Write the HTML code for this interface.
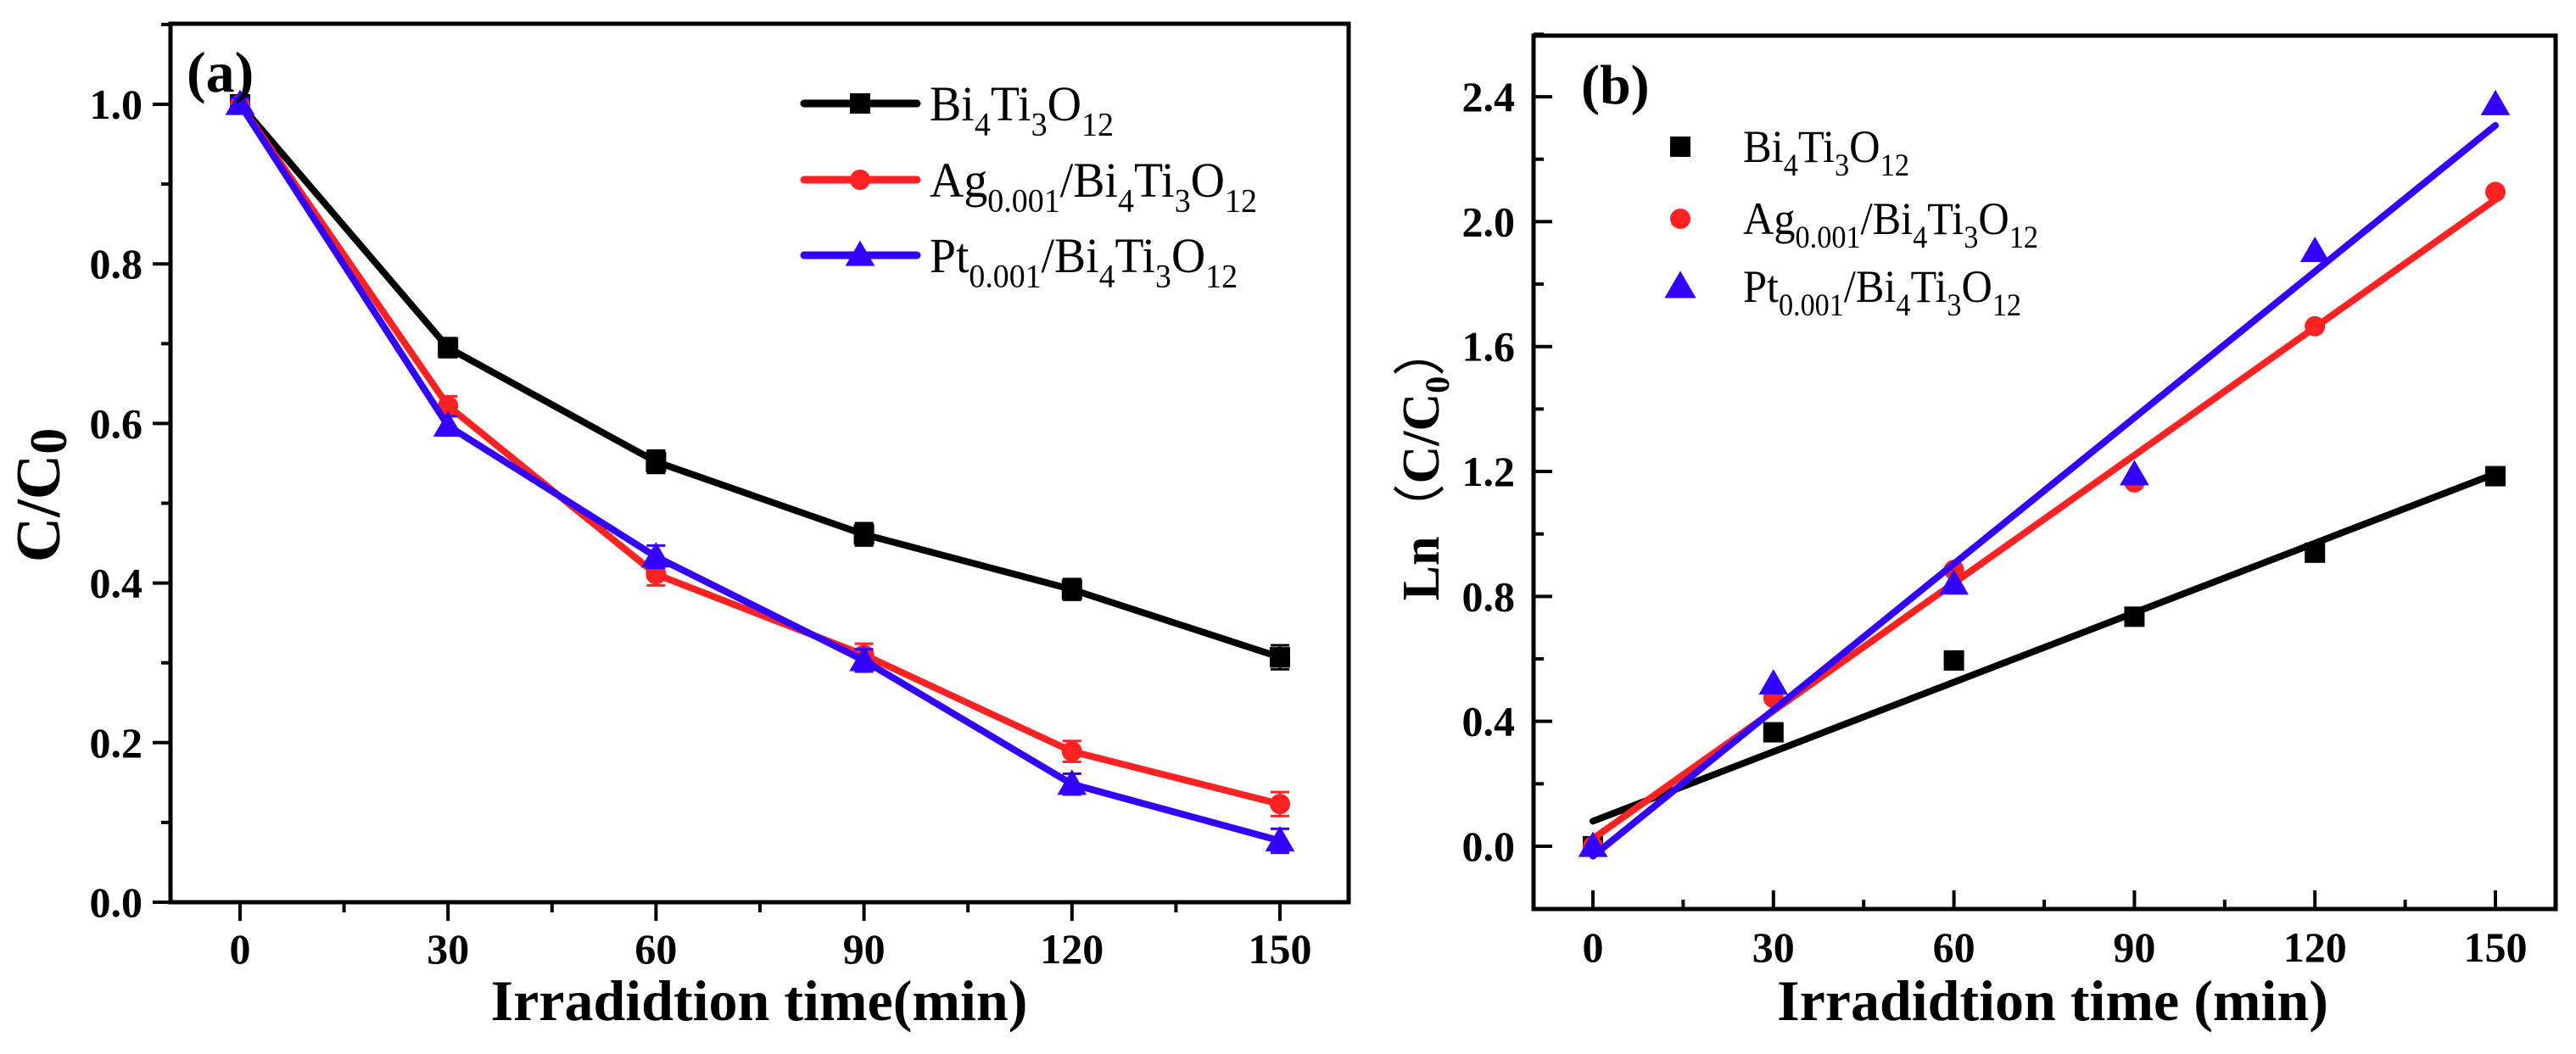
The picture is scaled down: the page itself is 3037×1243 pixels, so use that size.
<!DOCTYPE html>
<html><head><meta charset="utf-8"><style>
html,body{margin:0;padding:0;background:#fff;}
svg{display:block;font-family:"Liberation Serif",serif;}
</style></head><body>
<svg id="fig" width="3037" height="1243" viewBox="0 0 3037 1243" xmlns="http://www.w3.org/2000/svg">
<g id="pa"></g>
<g id="pb"></g>
</svg>
<script>
const times = [0, 30, 60, 90, 120, 150];
const seriesNames = ["Bi4Ti3O12", "Ag0.001/Bi4Ti3O12", "Pt0.001/Bi4Ti3O12"];
const aBlack = [1.0, 0.695, 0.552, 0.461, 0.392, 0.307];
const aRed = [1.0, 0.622, 0.411, 0.310, 0.189, 0.123];
const aBlue = [1.0, 0.597, 0.433, 0.303, 0.148, 0.077];
const aErr = [0.008, 0.012, 0.014, 0.014, 0.013, 0.015];
const bBlack = [0, 0.365, 0.595, 0.735, 0.94, 1.185];
const bRed = [0, 0.475, 0.885, 1.165, 1.665, 2.095];
const bBlue = [0, 0.52, 0.84, 1.19, 1.905, 2.375];
const aXTicks = [0, 30, 60, 90, 120, 150];
const aYTicks = [0.0, 0.2, 0.4, 0.6, 0.8, 1.0];
const bXTicks = [0, 30, 60, 90, 120, 150];
const bYTicks = [0.0, 0.4, 0.8, 1.2, 1.6, 2.0, 2.4];

const NS = "http://www.w3.org/2000/svg";
const COLORS = ["#000000", "#ff2222", "#3300ff"];
function mk(parent, tag, attrs) {
  const e = document.createElementNS(NS, tag);
  for (const k in attrs) e.setAttribute(k, attrs[k]);
  parent.appendChild(e);
  return e;
}
const ax = t => 283 + t * (1509 - 283) / 150;
const ay = v => 1064 - v * 941;
const bx = t => 1878 + t * (2942 - 1878) / 150;
const by = v => 998 - v * 368.3;

function marker(g, type, x, y, color, s) {
  let m;
  if (type === 0) m = mk(g, "rect", {x: x - s/2, y: y - s/2, width: s, height: s, fill: color});
  else if (type === 1) m = mk(g, "circle", {cx: x, cy: y, r: s/2, fill: color});
  else m = mk(g, "polygon", {points: `${x},${y - s*0.62} ${x - s*0.62},${y + s*0.45} ${x + s*0.62},${y + s*0.45}`, fill: color});
  return m;
}
function formula(g, x, y, size, name, len) {
  const t = mk(g, "text", {x: x, y: y, "font-size": size, fill: "#000", textLength: len, lengthAdjust: "spacingAndGlyphs"});
  const parts = name.match(/[A-Za-z\/]+|[0-9.]+/g);
  let sub = false;
  parts.forEach(p => {
    const isNum = /^[0-9.]+$/.test(p);
    const ts = mk(t, "tspan", {});
    if (isNum && !sub) { ts.setAttribute("dy", size * 0.3); ts.setAttribute("font-size", size * 0.68); sub = true; }
    else if (!isNum && sub) { ts.setAttribute("dy", -size * 0.3); sub = false; }
    ts.textContent = p;
  });
  return t;
}

// ---------- Panel A ----------
const pa = document.getElementById("pa");
mk(pa, "rect", {x: 201, y: 28, width: 1389, height: 1036, fill: "none", stroke: "#000", "stroke-width": 5});
aXTicks.forEach(t => {
  const l = mk(pa, "line", {x1: ax(t), y1: 1064, x2: ax(t), y2: 1086, stroke: "#000", "stroke-width": 4});
  
  
  if (t < 150) mk(pa, "line", {x1: ax(t + 15), y1: 1064, x2: ax(t + 15), y2: 1076, stroke: "#000", "stroke-width": 4});
  const tx = mk(pa, "text", {x: ax(t), y: 1136, "font-size": 50, "font-weight": "bold", "text-anchor": "middle"});
  tx.textContent = String(t);
  
  
});
mk(pa, "line", {x1: ax(-15) < 201 ? 0 : 0, y1: 0, x2: 0, y2: 0});
aYTicks.forEach(v => {
  mk(pa, "line", {x1: 180, y1: ay(v), x2: 201, y2: ay(v), stroke: "#000", "stroke-width": 4});
  if (v < 1.05) mk(pa, "line", {x1: 190, y1: ay(v + 0.1), x2: 201, y2: ay(v + 0.1), stroke: "#000", "stroke-width": 4});
  const tx = mk(pa, "text", {x: 168, y: ay(v) + 17, "font-size": 50, "font-weight": "bold", "text-anchor": "end"});
  tx.textContent = v.toFixed(1);
  
  
});
[aBlack, aRed, aBlue].forEach((vals, si) => {
  const g = mk(pa, "g", {});
  
  
  const pts = vals.map((v, i) => ax(times[i]) + "," + ay(v)).join(" ");
  mk(g, "polyline", {points: pts, fill: "none", stroke: COLORS[si], "stroke-width": 8, "stroke-linejoin": "round"});
  vals.forEach((v, i) => {
    const x = ax(times[i]), e = aErr[i];
    mk(g, "path", {d: `M${x},${ay(v + e)}V${ay(v - e)}M${x - 11},${ay(v + e)}H${x + 11}M${x - 11},${ay(v - e)}H${x + 11}`, stroke: COLORS[si], "stroke-width": 3, fill: "none"});
    const m = marker(g, si, x, ay(v), COLORS[si], si === 2 ? 28 : 24);
    
    
  });
});
const la = mk(pa, "text", {x: 220, y: 108, "font-size": 68, "font-weight": "bold"}); la.textContent = "(a)";
 
const legA = mk(pa, "g", {});
 
const legALens = [217, 386, 363];
[122, 212, 301].forEach((y, i) => {
  mk(legA, "line", {x1: 948, y1: y, x2: 1081, y2: y, stroke: COLORS[i], "stroke-width": 9, "stroke-linecap": "round"});
  marker(legA, i, 1014, y, COLORS[i], i === 2 ? 28 : 24);
  const t = formula(legA, 1096, y + 20, 58, seriesNames[i], legALens[i]);
   
});
const xta = mk(pa, "text", {x: 895, y: 1203, "font-size": 68, "font-weight": "bold", "text-anchor": "middle"});
xta.textContent = "Irradidtion time(min)";
 
const yta = mk(pa, "text", {x: 0, y: 0, "font-size": 74, "font-weight": "bold", "text-anchor": "middle", transform: "translate(70,584) rotate(-90)"});
yta.innerHTML = 'C/C<tspan font-size="62" dy="8">0</tspan>';
 

// ---------- Panel B ----------
const pb = document.getElementById("pb");
mk(pb, "rect", {x: 1808, y: 42, width: 1205, height: 1030, fill: "none", stroke: "#000", "stroke-width": 5});
bXTicks.forEach(t => {
  mk(pb, "line", {x1: bx(t), y1: 1072, x2: bx(t), y2: 1050, stroke: "#000", "stroke-width": 4});
  if (t < 150) mk(pb, "line", {x1: bx(t + 15), y1: 1072, x2: bx(t + 15), y2: 1061, stroke: "#000", "stroke-width": 4});
  const tx = mk(pb, "text", {x: bx(t), y: 1134, "font-size": 50, "font-weight": "bold", "text-anchor": "middle"});
  tx.textContent = String(t);
  
  
});
bYTicks.forEach(v => {
  mk(pb, "line", {x1: 1808, y1: by(v), x2: 1830, y2: by(v), stroke: "#000", "stroke-width": 4});
  mk(pb, "line", {x1: 1808, y1: by(v + 0.2), x2: 1820, y2: by(v + 0.2), stroke: "#000", "stroke-width": 4});
  const tx = mk(pb, "text", {x: 1786, y: by(v) + 17, "font-size": 50, "font-weight": "bold", "text-anchor": "end"});
  tx.textContent = v.toFixed(1);
  
  
});
mk(pb, "line", {x1: 1808, y1: by(-0.2), x2: 1820, y2: by(-0.2), stroke: "#000", "stroke-width": 4});
function fit(vals) {
  const n = times.length;
  const mt = times.reduce((a, b) => a + b, 0) / n, mv = vals.reduce((a, b) => a + b, 0) / n;
  let sxx = 0, sxy = 0;
  times.forEach((t, i) => { sxx += (t - mt) * (t - mt); sxy += (t - mt) * (vals[i] - mv); });
  const s = sxy / sxx;
  return [mv - s * mt, s];
}
[bBlack, bRed, bBlue].forEach((vals, si) => {
  const g = mk(pb, "g", {});
  
  
  const [a, s] = fit(vals);
  const fl = mk(g, "line", {x1: bx(0), y1: by(a), x2: bx(150), y2: by(a + s * 150), stroke: COLORS[si], "stroke-width": 8, "stroke-linecap": "round"});
  
  
  vals.forEach((v, i) => {
    const m = marker(g, si, bx(times[i]), by(v), COLORS[si], si === 2 ? 28 : 24);
    
    
  });
});
const lb = mk(pb, "text", {x: 1864, y: 122, "font-size": 66, "font-weight": "bold"}); lb.textContent = "(b)";
 
const legB = mk(pb, "g", {});
 
const legBLens = [196, 348, 328];
[173, 258, 338].forEach((y, i) => {
  marker(legB, i, 1981, y, COLORS[i], i === 2 ? 30 : 24);
  const t = formula(legB, 2055, y + 18, 54, seriesNames[i], legBLens[i]);
   
});
const xtb = mk(pb, "text", {x: 2420, y: 1203, "font-size": 68, "font-weight": "bold", "text-anchor": "middle"});
xtb.textContent = "Irradidtion time (min)";
 
const ytb = mk(pb, "text", {x: 0, y: 0, "font-size": 62, "font-weight": "bold", "text-anchor": "middle", transform: "translate(1696,545) rotate(-90)"});
ytb.innerHTML = 'Ln<tspan font-weight="normal">（</tspan>C/C<tspan font-size="40" dy="12">0</tspan><tspan dy="-12" font-weight="normal">）</tspan>';
 
</script>
</body></html>
